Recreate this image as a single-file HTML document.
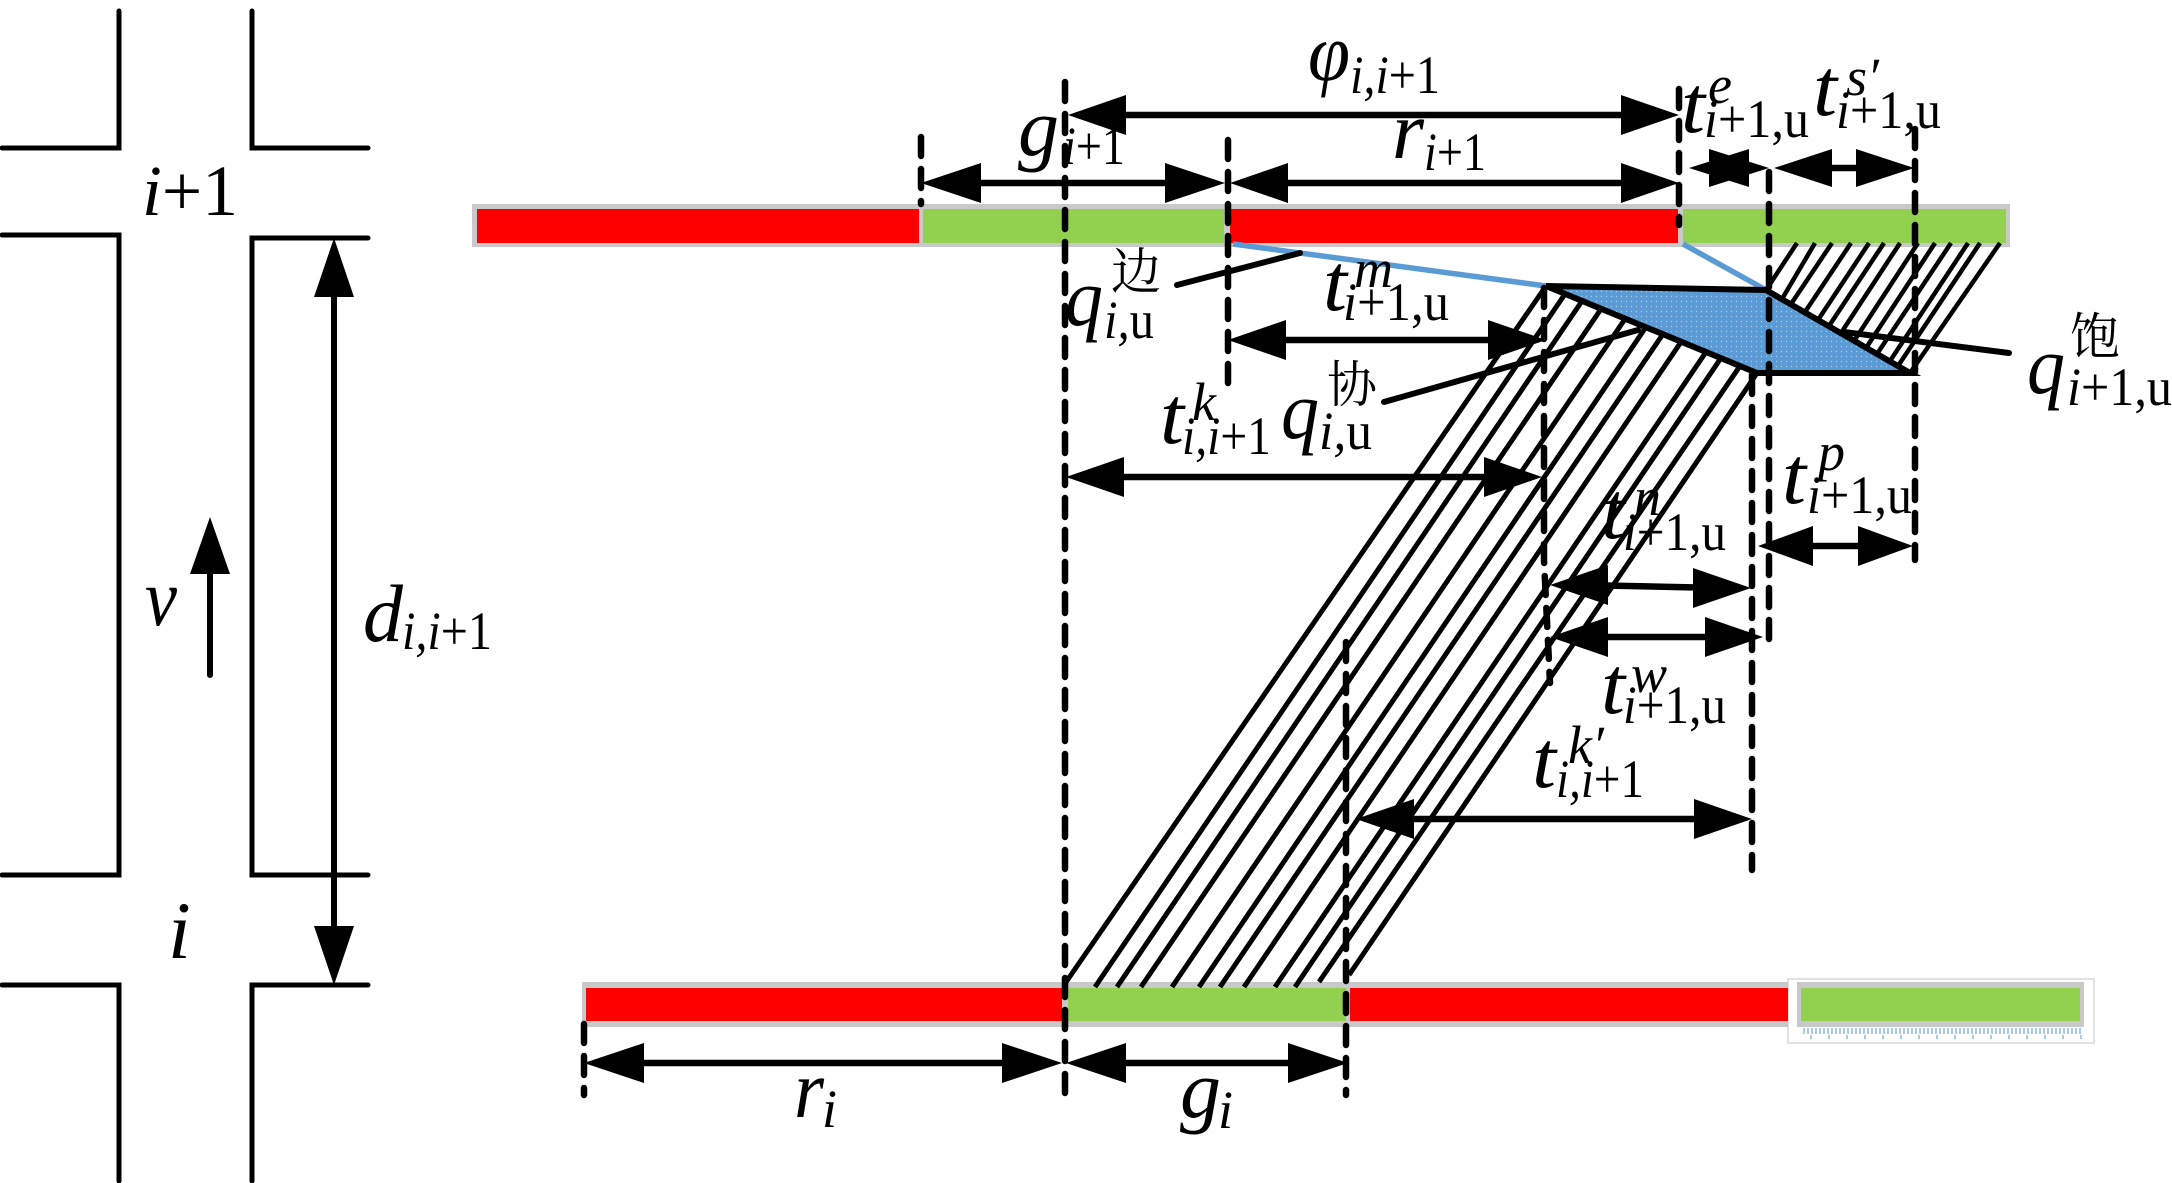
<!DOCTYPE html>
<html>
<head>
<meta charset="utf-8">
<style>
html,body{margin:0;padding:0;background:#fff}
svg{display:block}
text{font-family:"Liberation Serif","Noto Serif CJK SC",serif;fill:#000}
.m{font-style:italic;font-size:82px}
.s{font-style:italic;font-size:54px}
.n{font-style:normal}
.c{font-family:"Liberation Serif","Noto Serif CJK SC",serif;font-size:50px}
</style>
</head>
<body>
<svg width="2172" height="1183" viewBox="0 0 2172 1183" xmlns="http://www.w3.org/2000/svg">
<defs>
<pattern id="dots" width="5" height="5" patternUnits="userSpaceOnUse">
<rect width="5" height="5" fill="#5b9bd5"/>
<circle cx="1.5" cy="1.5" r="0.7" fill="#a9cbe8"/>
</pattern>
</defs>

<!-- road outlines -->
<g fill="none" stroke="#000" stroke-width="5" stroke-linecap="round" stroke-linejoin="miter">
<path d="M119 11V148H2"/>
<path d="M252 11V148H368"/>
<path d="M2 235H119V875H2"/>
<path d="M368 238H252V875H368"/>
<path d="M2 985H119V1181"/>
<path d="M368 985H252V1181"/>
<path d="M334 285V940" stroke-width="6"/>
<path d="M210 560V675" stroke-width="6"/>
</g>
<path d="M334 238l-20 59h40zM334 985l-20-59h40zM210 517l-20 57h40z" fill="#000"/>

<!-- top bar -->
<rect x="472" y="204" width="1538" height="43" fill="#c9c9c9"/>
<rect x="477" y="209" width="442" height="34" fill="#f00"/>
<rect x="923" y="209" width="301" height="34" fill="#92d050"/>
<rect x="1230" y="209" width="448" height="34" fill="#f00"/>
<rect x="1683" y="209" width="323" height="34" fill="#92d050"/>

<!-- bottom bar -->
<rect x="1788" y="979" width="306" height="64" fill="#fff" stroke="#e2e2e2" stroke-width="2"/>
<rect x="582" y="982" width="1206" height="45" fill="#c9c9c9"/>
<rect x="1797" y="982" width="287" height="45" fill="#c9c9c9"/>
<rect x="586" y="988" width="476" height="33" fill="#f00"/>
<rect x="1068" y="988" width="278" height="33" fill="#92d050"/>
<rect x="1350" y="988" width="438" height="33" fill="#f00"/>
<rect x="1801" y="988" width="279" height="33" fill="#92d050"/>
<path d="M1803 1031H2082" stroke="#a9cbe8" stroke-width="6" stroke-dasharray="2 2" fill="none"/>
<path d="M1810 1037H2082" stroke="#a9cbe8" stroke-width="4" stroke-dasharray="2 16" fill="none"/>

<!-- blue connector lines & queue shape -->
<path d="M1233 244L1546 286M1683 244L1766 290" stroke="#5b9bd5" stroke-width="5.5" fill="none"/>
<path d="M1546 286L1766 290L1910 373H1757Z" fill="url(#dots)"/>

<!-- hatching -->
<g stroke="#000" stroke-width="5" fill="none">
<path d="M1546 286L1064 985M1565 294L1095 987M1582 301L1117 987M1601 309L1141 987M1625 319L1172 987M1646 327L1199 987M1663 334L1220 987M1681 342L1244 987M1706 352L1275 987M1721 358L1295 987M1740 366L1319 982M1757 373L1349 975"/>
<path stroke-width="4.5" d="M1797 243L1766 290M1815 243L1782 299M1832 243L1791 304M1851 243L1805 312M1869 243L1818 320M1884 243L1829 326M1900 243L1841 333M1918 243L1854 341M1935 243L1866 348M1951 243L1877 354M1968 243L1890 361M1980 243L1898 366M2000 243L1910 373"/>
</g>
<path d="M1546 286L1766 290M1546 286L1757 373H1910L1766 290" fill="none" stroke="#000" stroke-width="6"/>

<!-- leaders -->
<g stroke="#000" stroke-width="6" fill="none" stroke-linecap="round">
<path d="M1177 285L1300 253"/>
<path d="M1384 402L1638 330"/>
<path d="M1844 332L2009 353"/>
</g>

<!-- dashed verticals -->
<g stroke="#000" stroke-width="6.5" fill="none" stroke-dasharray="19 13" stroke-linecap="round">
<path d="M1065 82V1095"/>
<path d="M921 137V204"/>
<path d="M1228 140V395"/>
<path d="M1679 89V225"/>
<path d="M1769 172V650"/>
<path d="M1915 129V560"/>
<path d="M1544 288V560L1550 683"/>
<path d="M1752 375V870"/>
<path d="M1346 642V1095"/>
<path d="M584 1024V1095"/>
</g>

<!-- dimension arrows -->
<g stroke="#000" stroke-width="6.5" fill="none">
<path d="M1100 115H1650"/>
<path d="M950 183H1195"/>
<path d="M1260 183H1650"/>
<path d="M1800 168H1885"/>
<path d="M1260 340H1515"/>
<path d="M1100 477H1510"/>
<path d="M1580 585L1720 588"/>
<path d="M1580 637H1735"/>
<path d="M1385 819H1720"/>
<path d="M1790 546H1880"/>
<path d="M615 1063H1030"/>
<path d="M1095 1063H1315"/>
</g>
<path fill="#000" d="
M1068 115l58-20v40zM1679 115l-58-20v40z
M921 183l60-20v40zM1225 183l-60-20v40z
M1230 183l58-20v40zM1679 183l-58-20v40z
M1774 168l58-19v38zM1914 168l-58-19v38z
M1228 340l58-20v40zM1546 340l-58-20v40z
M1066 477l58-20v40zM1542 477l-58-20v40z
M1550 585l58-20v40zM1751 588l-58-20v40z
M1550 637l58-20v40zM1763 637l-58-20v40z
M1356 819l58-20v40zM1752 819l-58-20v40z
M1758 546l55-20v40zM1913 546l-55-20v40z
M584 1063l60-20v40zM1062 1063l-60-20v40z
M1066 1063l60-20v40zM1348 1063l-60-20v40z"/>
<path fill="#000" d="M1689 168l60-19v38z"/>
<path fill="#000" d="M1769 168l-60-19v38z"/>

<!-- left labels -->
<text x="142" y="215" font-size="72" textLength="96" lengthAdjust="spacingAndGlyphs"><tspan font-style="italic">i</tspan>+1</text>
<text class="m" x="145" y="625" textLength="32" lengthAdjust="spacingAndGlyphs">v</text>
<text class="m" x="168" y="958">i</text>
<text class="m" x="363" y="641" textLength="40" lengthAdjust="spacingAndGlyphs">d</text>
<text class="s" x="402" y="649" textLength="90" lengthAdjust="spacingAndGlyphs">i,i<tspan class="n">+1</tspan></text>

<!-- phi -->
<text class="m" x="1308" y="80" textLength="42" lengthAdjust="spacingAndGlyphs">φ</text>
<text class="s" x="1350" y="93" textLength="90" lengthAdjust="spacingAndGlyphs">i,i<tspan class="n">+1</tspan></text>

<!-- g i+1 -->
<text class="m" x="1018" y="155" textLength="41" lengthAdjust="spacingAndGlyphs">g</text>
<text class="s" x="1063" y="164" textLength="62" lengthAdjust="spacingAndGlyphs">i<tspan class="n">+1</tspan></text>

<!-- r i+1 -->
<text class="m" x="1392" y="158" textLength="32" lengthAdjust="spacingAndGlyphs">r</text>
<text class="s" x="1424" y="170" textLength="62" lengthAdjust="spacingAndGlyphs">i<tspan class="n">+1</tspan></text>

<!-- t e -->
<text class="m" x="1681" y="132" textLength="24" lengthAdjust="spacingAndGlyphs">t</text>
<text class="s" x="1708" y="103">e</text>
<text class="s" x="1704" y="137" textLength="105" lengthAdjust="spacingAndGlyphs">i<tspan class="n">+1,u</tspan></text>

<!-- t s' -->
<text class="m" x="1813" y="115" textLength="24" lengthAdjust="spacingAndGlyphs">t</text>
<text class="s" x="1846" y="95">s′</text>
<text class="s" x="1836" y="128" textLength="105" lengthAdjust="spacingAndGlyphs">i<tspan class="n">+1,u</tspan></text>

<!-- 边 q -->
<text class="c" x="1111" y="289">边</text>
<text class="m" x="1065" y="325" textLength="38" lengthAdjust="spacingAndGlyphs">q</text>
<text class="s" x="1104" y="338" textLength="50" lengthAdjust="spacingAndGlyphs">i,<tspan class="n">u</tspan></text>

<!-- t m -->
<text class="m" x="1323" y="310" textLength="24" lengthAdjust="spacingAndGlyphs">t</text>
<text class="s" x="1354" y="287">m</text>
<text class="s" x="1343" y="320" textLength="106" lengthAdjust="spacingAndGlyphs">i<tspan class="n">+1,u</tspan></text>

<!-- 协 q -->
<text class="c" x="1327" y="402">协</text>
<text class="m" x="1281" y="438" textLength="38" lengthAdjust="spacingAndGlyphs">q</text>
<text class="s" x="1319" y="449" textLength="53" lengthAdjust="spacingAndGlyphs">i,<tspan class="n">u</tspan></text>

<!-- t k -->
<text class="m" x="1160" y="443" textLength="24" lengthAdjust="spacingAndGlyphs">t</text>
<text class="s" x="1192" y="420">k</text>
<text class="s" x="1182" y="454" textLength="89" lengthAdjust="spacingAndGlyphs">i,i<tspan class="n">+1</tspan></text>

<!-- t n -->
<text class="m" x="1601" y="538" textLength="24" lengthAdjust="spacingAndGlyphs">t</text>
<text class="s" x="1634" y="515">n</text>
<text class="s" x="1623" y="550" textLength="103" lengthAdjust="spacingAndGlyphs">i<tspan class="n">+1,u</tspan></text>

<!-- t w -->
<text class="m" x="1601" y="713" textLength="24" lengthAdjust="spacingAndGlyphs">t</text>
<text class="s" x="1631" y="692">w</text>
<text class="s" x="1623" y="723" textLength="103" lengthAdjust="spacingAndGlyphs">i<tspan class="n">+1,u</tspan></text>

<!-- t k' -->
<text class="m" x="1532" y="787" textLength="24" lengthAdjust="spacingAndGlyphs">t</text>
<text class="s" x="1568" y="763">k′</text>
<text class="s" x="1556" y="797" textLength="88" lengthAdjust="spacingAndGlyphs">i,i<tspan class="n">+1</tspan></text>

<!-- t p -->
<text class="m" x="1782" y="503" textLength="24" lengthAdjust="spacingAndGlyphs">t</text>
<text class="s" x="1818" y="470">p</text>
<text class="s" x="1807" y="513" textLength="105" lengthAdjust="spacingAndGlyphs">i<tspan class="n">+1,u</tspan></text>

<!-- 饱 q -->
<text class="c" x="2070" y="354">饱</text>
<text class="m" x="2027" y="393" textLength="38" lengthAdjust="spacingAndGlyphs">q</text>
<text class="s" x="2067" y="405" textLength="105" lengthAdjust="spacingAndGlyphs">i<tspan class="n">+1,u</tspan></text>

<!-- r_i g_i -->
<text class="m" x="794" y="1117" textLength="30" lengthAdjust="spacingAndGlyphs">r</text>
<text class="s" x="822" y="1127">i</text>
<text class="m" x="1180" y="1117" textLength="41" lengthAdjust="spacingAndGlyphs">g</text>
<text class="s" x="1218" y="1128">i</text>
</svg>
</body>
</html>
